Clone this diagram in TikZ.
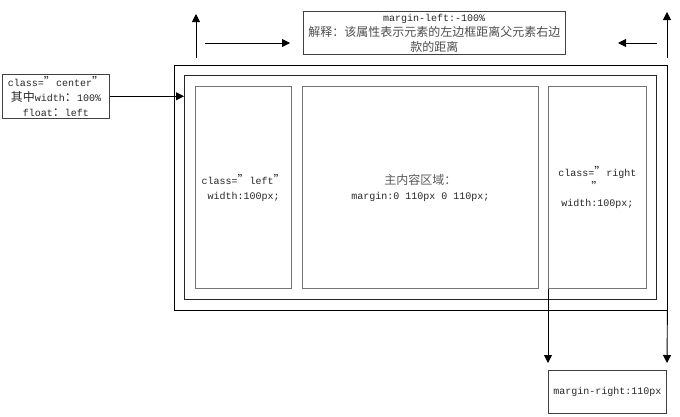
\documentclass[tikz,border=0pt]{standalone}
\usepackage{fontspec}
\setmainfont{Liberation Mono}
\newfontfamily\cjk{Noto Sans CJK SC}
\newcommand\zh[1]{{\fontsize{12}{15}\cjk #1}}
\usetikzlibrary{arrows.meta}
\begin{document}
\begin{tikzpicture}[x=1pt,y=-1pt,
  every node/.style={font=\fontsize{10}{15}\selectfont, inner sep=0pt, align=center},
  blackbox/.style={draw=black, line width=0.9pt},
  graybox/.style={draw=black!55, line width=1.4pt},
  labelbox/.style={draw=black!75, line width=1pt},
  arr/.style={-{Triangle[length=8pt,width=8pt]}, line width=0.9pt}]
\useasboundingbox (0,0) rectangle (680,416);
% outer frames
\node[blackbox, anchor=north west, minimum width=492.5pt, minimum height=245.5pt] (outer) at (174,64.5) {};
\node[blackbox, draw=black!85, line width=0.8pt, anchor=north west, minimum width=472pt, minimum height=224pt] (second) at (184,75) {};
% columns
\node[graybox, anchor=north west, minimum width=96pt, minimum height=202pt] (left) at (195,86) {};
\node[text=black!85] at (left.center) {class=\zh{”}left\zh{”}\\width:100px;};
\node[graybox, anchor=north west, minimum width=235.5pt, minimum height=202pt] (main) at (302,86) {};
\node[text=black!85] at (main.center) {\zh{\color{black!65}主内容区域：}\\margin:0 110px 0 110px;};
\node[graybox, anchor=north west, minimum width=97.5pt, minimum height=202pt] (right) at (548,86) {};
\node[text=black!85] at (right.center) {class=\zh{”}right\\\zh{”}\\width:100px;};
% labels
\node[labelbox, anchor=north west, minimum width=107pt, minimum height=43.5pt] (lab) at (2,74) {};
\node[text=black!85] at (lab.center) {class=\zh{”}center\zh{”}\\\zh{其中}width\zh{：}100\%\\float\zh{：}left};
\node[labelbox, anchor=north west, minimum width=262.5pt, minimum height=43pt] (top) at (302.5,11) {};
\node[text=black!85] at (top.center) {margin-left:-100\%\\\zh{\color{black!70}解释：该属性表示元素的左边框距离父元素右边}\\\zh{\color{black!70}款的距离}};
\node[labelbox, anchor=north west, minimum width=118pt, minimum height=43pt] (bot) at (548,370) {};
\node[text=black!85] at (bot.center) {margin-right:110px};
% free arrow ends
\coordinate (ua1s) at (196,58);
\coordinate (ua1e) at (196,14);
\coordinate (ra1s) at (205,43);
\coordinate (ra1e) at (290,43);
\coordinate (la1s) at (657,43);
\coordinate (la1e) at (618,43);
\coordinate (ua2s) at (667,58);
\coordinate (ua2e) at (667,12);
\coordinate (da1e) at (548,363);
\coordinate (da2e) at (667,363);
% arrows
\draw[arr] (ua1s) -- (ua1e);
\draw[arr] (ra1s) -- (ra1e);
\draw[arr] (la1s) -- (la1e);
\draw[arr] (ua2s) -- (ua2e);
\draw[arr] (lab.east) -- (second.west |- lab.east);
\draw[arr] (right.south west) -- (da1e);
\draw[arr] (outer.south east) -- (da2e);
\end{tikzpicture}
\end{document}
